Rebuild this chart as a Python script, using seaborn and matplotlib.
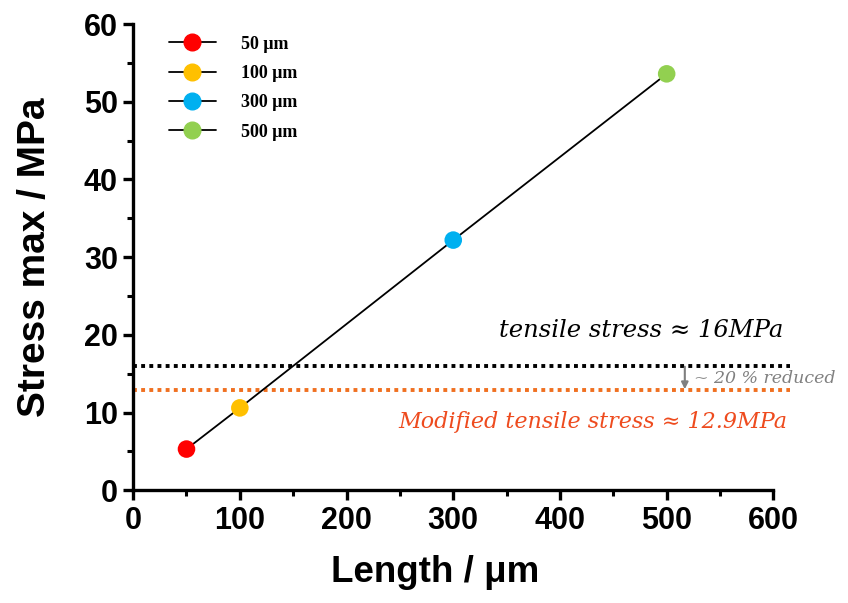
import matplotlib

matplotlib.use("Agg")

import matplotlib.pyplot as plt
import pandas as pd
import seaborn as sns
from matplotlib.lines import Line2D
from matplotlib.ticker import MultipleLocator

# data
lengths = [50, 100, 300, 500]
stress_max = [5.3, 10.6, 32.2, 53.6]
labels = ["50 \u03bcm", "100 \u03bcm", "300 \u03bcm", "500 \u03bcm"]
colors = ["#FF0000", "#FFC000", "#00B0F0", "#92D050"]
tensile = 16.0
modified = 12.9

df = pd.DataFrame({"length": lengths, "stress": stress_max, "label": labels})

sns.set_theme(style="ticks")
plt.rcParams["font.family"] = ["Liberation Sans", "DejaVu Sans"]
plt.rcParams.update({
    "text.color": "black",
    "axes.labelcolor": "black",
    "axes.edgecolor": "black",
    "xtick.color": "black",
    "ytick.color": "black",
})

fig = plt.figure(figsize=(8.48, 6.03), dpi=100)
ax = fig.add_axes([0.157, 0.187, 0.755, 0.773])

sns.lineplot(data=df, x="length", y="stress", color="black", linewidth=1.3, ax=ax, zorder=2)
sns.scatterplot(data=df, x="length", y="stress", hue="label", palette=colors,
                s=160, edgecolor="none", legend=False, ax=ax, zorder=3)

# threshold lines run a bit past the right end of the axis
ax.plot([0, 616], [tensile, tensile], color="black", lw=2.8,
        linestyle=(0, (1, 1.1)), clip_on=False, zorder=1)
ax.plot([0, 616], [modified, modified], color="#F07020", lw=2.8,
        linestyle=(0, (1, 1.1)), clip_on=False, zorder=1)

serif = ["DejaVu Serif"]
ax.text(476, 20.5, "tensile stress \u2248 16MPa", fontsize=17.5, style="italic",
        family=serif, color="black", ha="center", va="center")
ax.text(431, 8.8, "Modified tensile stress \u2248 12.9MPa", fontsize=16, style="italic",
        family=serif, color="#EE4B1E", ha="center", va="center")
ax.annotate("", xy=(517, 13.0), xytext=(517, 15.9),
            arrowprops=dict(arrowstyle="-|>", color="#7F7F7F", lw=1.5,
                            mutation_scale=10, shrinkA=0, shrinkB=0))
ax.text(526, 14.4, "~ 20 % reduced", fontsize=12.5, style="italic",
        family=serif, color="#808080", ha="left", va="center", clip_on=False)

ax.set_xlim(0, 600)
ax.set_ylim(0, 60)
ax.xaxis.set_major_locator(MultipleLocator(100))
ax.xaxis.set_minor_locator(MultipleLocator(50))
ax.yaxis.set_major_locator(MultipleLocator(10))
ax.yaxis.set_minor_locator(MultipleLocator(5))

sns.despine(ax=ax)
for side in ["left", "bottom"]:
    ax.spines[side].set_linewidth(2.4)
ax.tick_params(which="major", length=7, width=2.4, direction="out", pad=4)
ax.tick_params(which="minor", length=4, width=2.2, direction="out")

for lab in ax.get_xticklabels() + ax.get_yticklabels():
    lab.set_fontsize(22)
    lab.set_fontweight("bold")

ax.set_xlabel("Length / \u03bcm", fontsize=26.5, fontweight="bold", labelpad=14)
ax.xaxis.label.set_x(0.472)
ax.set_ylabel("Stress max / MPa", fontsize=28, fontweight="bold", labelpad=22)

handles = [
    Line2D([0], [0], color="black", lw=1.3, marker="o", markersize=12,
           markerfacecolor=c, markeredgecolor=c)
    for c in colors
]
ax.legend(handles, labels, loc="upper left", bbox_to_anchor=(0.03, 1.01),
          frameon=False, handlelength=2.6, labelspacing=0.68, handletextpad=1.4,
          prop={"family": ["Liberation Serif", "DejaVu Serif"], "weight": "bold", "size": 13})

fig.savefig("out.png", dpi=100)
